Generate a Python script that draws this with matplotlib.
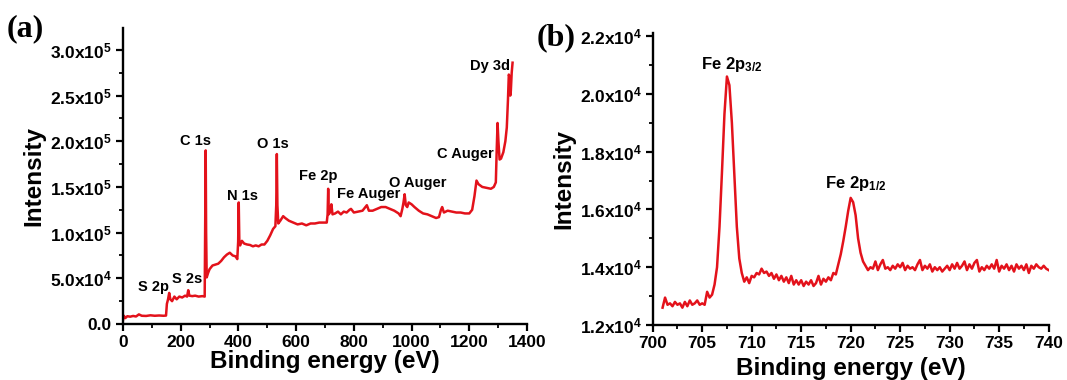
import numpy as np
import matplotlib
matplotlib.use("Agg")
import matplotlib.pyplot as plt
from matplotlib.ticker import FuncFormatter, MultipleLocator, AutoMinorLocator

plt.rcParams["font.family"] = ["Liberation Sans", "DejaVu Sans"]
plt.rcParams["font.weight"] = "bold"
plt.rcParams["mathtext.fontset"] = "custom"
plt.rcParams["mathtext.rm"] = "Liberation Sans:bold"
plt.rcParams["mathtext.it"] = "Liberation Sans:bold"
plt.rcParams["mathtext.bf"] = "Liberation Sans:bold"
plt.rcParams["mathtext.default"] = "rm"

RED = "#e3121b"

# (a) survey spectrum
survey_E = [0, 3, 8, 15, 25, 35, 45, 55, 65, 80, 95, 110, 125, 140, 149,
            152, 156, 160, 164, 170, 178, 186, 195, 205, 215, 222, 226, 230,
            240, 250, 262, 275, 283, 285, 286.5, 288, 290, 295, 300, 310, 320,
            330, 340, 350, 360, 370, 380, 390, 396, 399, 401, 403, 406, 412,
            420, 430, 440, 450, 460, 470, 480, 490, 500, 510, 520, 528, 531,
            533, 535, 538, 545, 555, 562, 575, 590, 605, 620, 635, 650, 665,
            680, 695, 706, 709, 711, 713, 717, 722, 726, 735, 745, 755, 765,
            775, 785, 790, 800, 815, 830, 845, 852, 865, 880, 895, 910, 925,
            940, 955, 962, 968, 972, 976, 980, 985, 990, 1000, 1010, 1025,
            1040, 1055, 1070, 1085, 1095, 1102, 1106, 1112, 1125, 1140, 1155,
            1170, 1185, 1200, 1210, 1218, 1225, 1232, 1245, 1260, 1275, 1285,
            1292, 1295, 1298, 1301, 1305, 1310, 1318, 1325, 1330, 1334, 1337,
            1340, 1342, 1344, 1347, 1350]
survey_I = [4500, 9000, 6500, 8500, 8000, 8800, 8200, 10500, 9000, 8800, 9500,
            9000, 9300, 9000, 9200, 22000, 27000, 34000, 27000, 25000, 30000,
            27000, 30000, 29000, 31000, 30000, 37000, 31000, 30500, 31000,
            30000, 30500, 30000, 120000, 190000, 100000, 51000, 56000, 60000,
            64000, 65000, 66000, 69000, 73000, 76000, 78000, 75000, 74000,
            71000, 90000, 133000, 92000, 86000, 91000, 88000, 87000, 86500,
            85000, 86000, 85000, 87000, 87000, 91000, 97000, 104000, 107000,
            130000, 186000, 130000, 110000, 113000, 118000, 116000, 113000,
            111000, 109000, 110000, 108000, 110000, 110000, 111000, 111000,
            111000, 120000, 148000, 120000, 122000, 131000, 120000, 121000,
            123000, 120000, 123000, 122000, 125000, 126000, 122000, 123000,
            124000, 130000, 124000, 124000, 126000, 128000, 128000, 126000,
            124000, 121000, 118000, 126000, 133000, 142000, 130000, 128000,
            133000, 131000, 128000, 124000, 121000, 120000, 118000, 116000,
            117000, 125000, 128000, 122000, 124000, 123000, 122000, 122000,
            121000, 121000, 125000, 140000, 157000, 153000, 150000, 149000,
            148000, 150000, 155000, 190000, 220000, 200000, 180000, 181000,
            188000, 200000, 215000, 245000, 273000, 270000, 250000, 255000,
            275000, 286000]

survey_labels = ["S 2p", "S 2s", "C 1s", "N 1s", "O 1s", "Fe 2p", "Fe Auger",
                 "O Auger", "C Auger", "Dy 3d"]
survey_label_E = [105, 223, 250, 415, 518, 677, 852, 1021, 1186, 1273]
survey_label_I = [41000, 49000, 200000, 140000, 197000, 162000, 142000,
                  154000, 186000, 282000]

# (b) Fe 2p region, 0.25 eV steps from 701 to 740 eV
fe_E = np.arange(701, 740.01, 0.25)
fe_I = [12600, 12950, 12700, 12750, 12650, 12800, 12700, 12750,
        12600, 12800, 12650, 12850, 12700, 12750, 12850, 12700,
        12750, 12700, 13150, 12950, 13050, 13400, 14000, 15400,
        17300, 19300, 20600, 20300, 19000, 17200, 15400, 14300,
        13800, 13500, 13650, 13450, 13700, 13650, 13800, 13750,
        13950, 13800, 13850, 13700, 13800, 13600, 13750, 13550,
        13700, 13500, 13650, 13450, 13700, 13400, 13550, 13400,
        13550, 13350, 13500, 13400, 13550, 13350, 13450, 13700,
        13400, 13600, 13500, 13650, 13550, 13800, 13750, 14100,
        14450, 14900, 15400, 15950, 16400, 16250, 15800, 15000,
        14500, 14200, 14050, 13900, 14000, 13950, 14200, 13900,
        14100, 14250, 13950, 14000, 13900, 14050, 13950, 14100,
        14000, 14150, 13900, 14050, 13950, 14000, 13900, 14100,
        14250, 13900, 14050, 13950, 14100, 13850, 14000, 13900,
        14000, 13850, 13950, 14050, 13900, 14100, 13950, 14150,
        13950, 14050, 14200, 13900, 14100, 13950, 14150, 14250,
        13850, 14000, 13900, 14050, 13950, 14100, 13950, 14250,
        13850, 14050, 13950, 14100, 13900, 14050, 13850, 14100,
        13950, 14050, 13900, 14100, 13800, 14050, 13950, 14100,
        14000, 13950, 14050, 13950, 13900]

fe_labels = ["Fe 2p$_{3/2}$", "Fe 2p$_{1/2}$"]
fe_label_E = [708.0, 720.5]
fe_label_I = [21000, 16900]


def sci_fmt(v, pos):
    if v == 0:
        return "0.0"
    e = int(np.floor(np.log10(abs(v))))
    m = v / 10 ** e
    return f"{m:.1f}x10$^{{{e}}}$"


def style(ax, xpad):
    for s in ["top", "right"]:
        ax.spines[s].set_visible(False)
    for s in ["left", "bottom"]:
        ax.spines[s].set_linewidth(1.7)
    ax.tick_params(which="major", direction="out", length=5, width=1.6,
                   labelsize=12.5, pad=3)
    ax.tick_params(which="minor", direction="out", length=3, width=1.3)
    ax.xaxis.set_minor_locator(AutoMinorLocator(2))
    ax.yaxis.set_minor_locator(AutoMinorLocator(2))
    ax.yaxis.set_major_formatter(FuncFormatter(sci_fmt))
    ax.set_ylabel("Intensity", fontsize=17.5, fontweight="bold", labelpad=3)
    ax.set_xlabel("Binding energy (eV)", fontsize=17.5, fontweight="bold",
                  labelpad=xpad)


fig = plt.figure(figsize=(10.67, 3.8), dpi=100)
ax1 = fig.add_axes([0.1153, 0.1474, 0.3786, 0.779])
ax2 = fig.add_axes([0.6117, 0.1447, 0.3711, 0.768])

ax1.plot(survey_E, survey_I, color=RED, lw=1.8)
ax1.set_xlim(0, 1400)
ax1.set_ylim(0, 324000)
ax1.xaxis.set_major_locator(MultipleLocator(200))
ax1.yaxis.set_major_locator(MultipleLocator(50000))
style(ax1, 0)
for t, x, y in zip(survey_labels, survey_label_E, survey_label_I):
    ax1.text(x, y, t, ha="center", va="center", fontsize=10.5,
             fontweight="bold")

ax2.plot(fe_E, fe_I, color=RED, lw=1.8)
ax2.set_xlim(700, 740)
ax2.set_ylim(12000, 22100)
ax2.xaxis.set_major_locator(MultipleLocator(5))
ax2.yaxis.set_major_locator(MultipleLocator(2000))
style(ax2, 4)
for t, x, y in zip(fe_labels, fe_label_E, fe_label_I):
    ax2.text(x, y, t, ha="center", va="center", fontsize=12,
             fontweight="bold")

fig.text(0.006, 0.925, "(a)", family="Liberation Serif", fontsize=23,
         fontweight="bold", va="center", ha="left")
fig.text(0.503, 0.90, "(b)", family="Liberation Serif", fontsize=23,
         fontweight="bold", va="center", ha="left")

fig.savefig("out.png", dpi=100)
